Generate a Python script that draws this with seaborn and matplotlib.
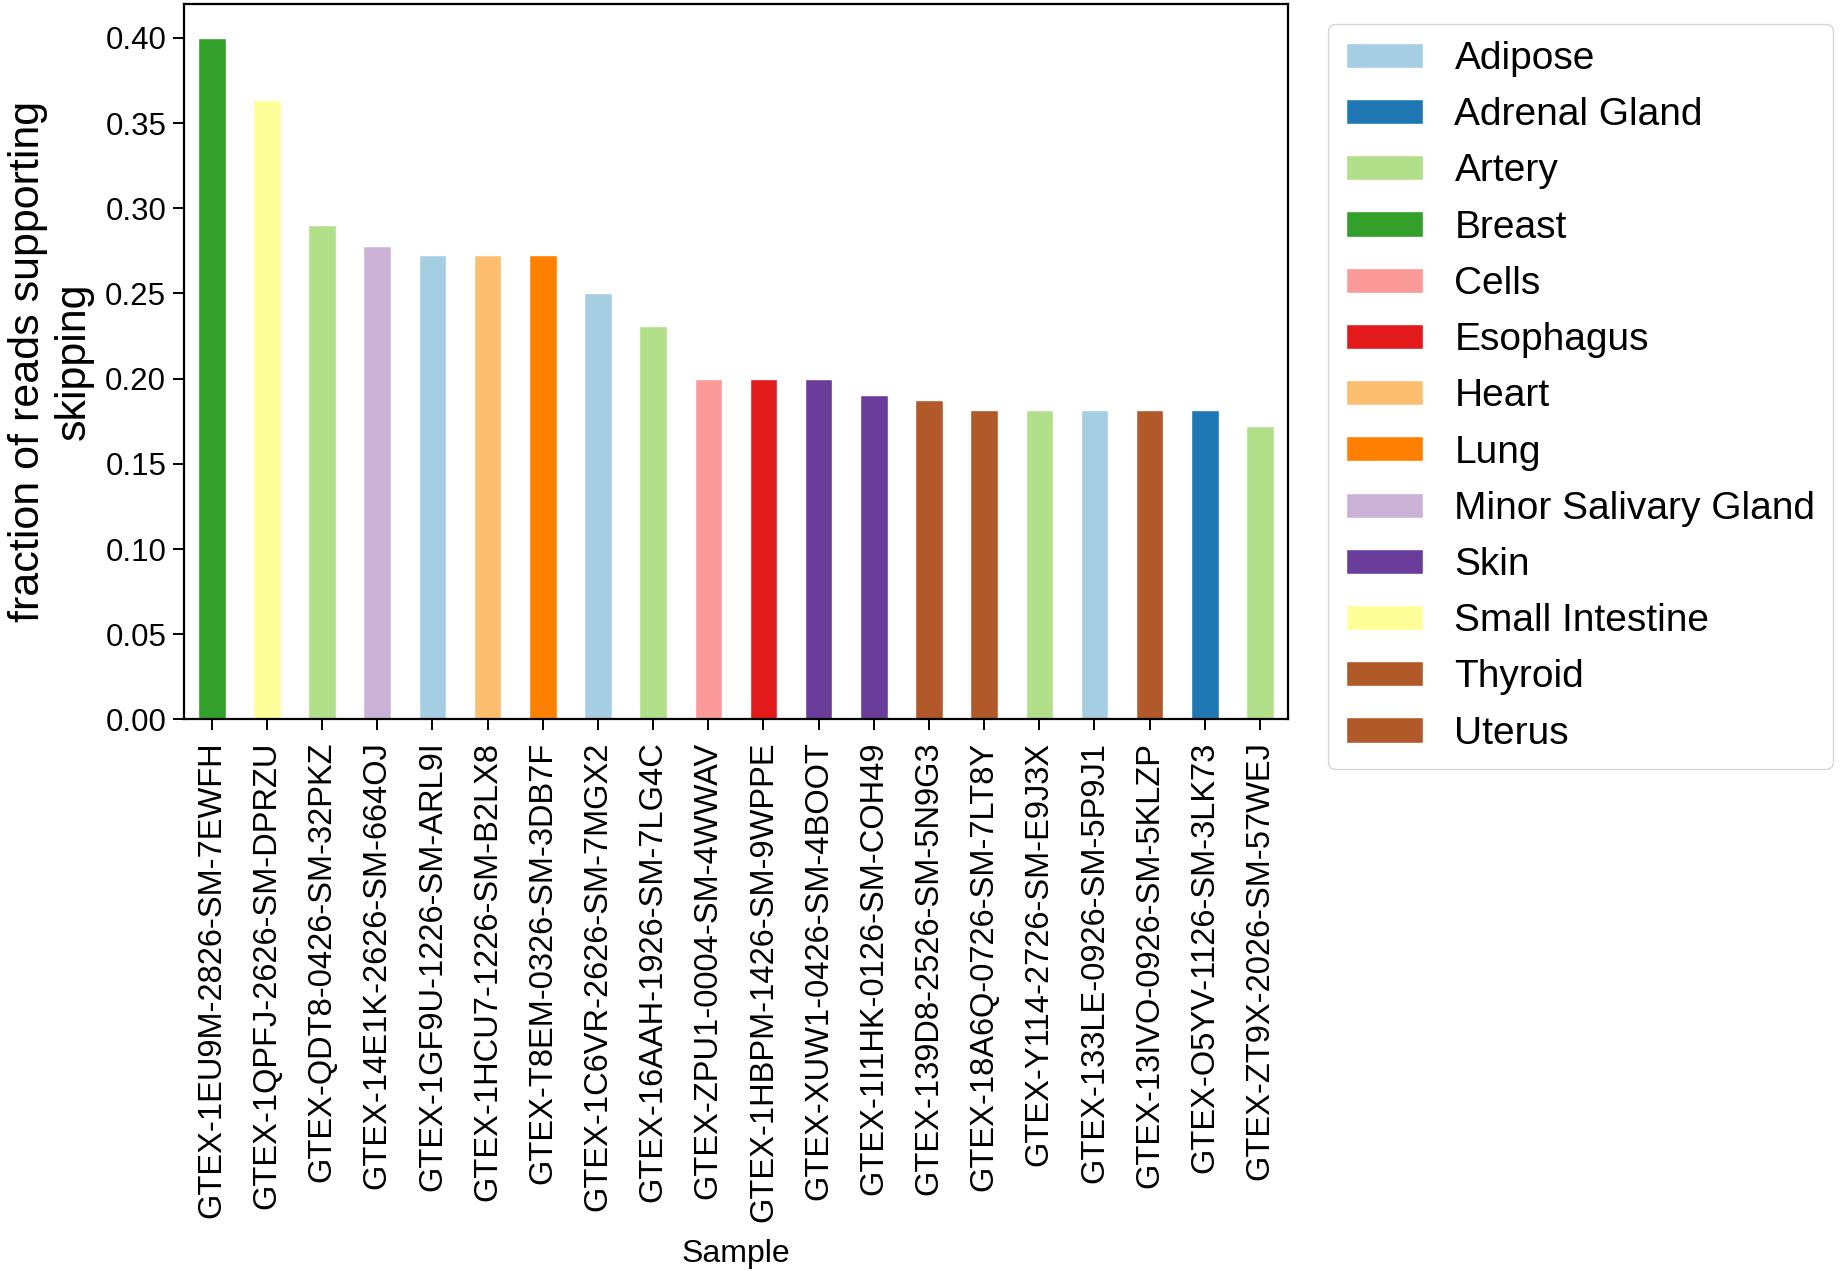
import numpy as np
import pandas as pd
import seaborn as sns
import matplotlib.pyplot as plt

samples = [
    "GTEX-1EU9M-2826-SM-7EWFH", "GTEX-1QPFJ-2626-SM-DPRZU", "GTEX-QDT8-0426-SM-32PKZ",
    "GTEX-14E1K-2626-SM-664OJ", "GTEX-1GF9U-1226-SM-ARL9I", "GTEX-1HCU7-1226-SM-B2LX8",
    "GTEX-T8EM-0326-SM-3DB7F", "GTEX-1C6VR-2626-SM-7MGX2", "GTEX-16AAH-1926-SM-7LG4C",
    "GTEX-ZPU1-0004-SM-4WWAV", "GTEX-1HBPM-1426-SM-9WPPE", "GTEX-XUW1-0426-SM-4BOOT",
    "GTEX-1I1HK-0126-SM-COH49", "GTEX-139D8-2526-SM-5N9G3", "GTEX-18A6Q-0726-SM-7LT8Y",
    "GTEX-Y114-2726-SM-E9J3X", "GTEX-133LE-0926-SM-5P9J1", "GTEX-13IVO-0926-SM-5KLZP",
    "GTEX-O5YV-1126-SM-3LK73", "GTEX-ZT9X-2026-SM-57WEJ",
]
tissues = [
    "Breast", "Small Intestine", "Artery", "Minor Salivary Gland", "Adipose", "Heart",
    "Lung", "Adipose", "Artery", "Cells", "Esophagus", "Skin", "Skin", "Thyroid",
    "Uterus", "Artery", "Adipose", "Thyroid", "Adrenal Gland", "Artery",
]
fraction = [
    0.4000, 0.3636, 0.2903, 0.2778, 0.2727, 0.2727, 0.2727, 0.2500, 0.2308, 0.2000,
    0.2000, 0.2000, 0.1905, 0.1875, 0.1818, 0.1818, 0.1818, 0.1818, 0.1818, 0.1724,
]
tissue_order = [
    "Adipose", "Adrenal Gland", "Artery", "Breast", "Cells", "Esophagus", "Heart",
    "Lung", "Minor Salivary Gland", "Skin", "Small Intestine", "Thyroid", "Uterus",
]

df = pd.DataFrame({"Sample": samples, "tissue": tissues, "fraction": fraction})

paired = sns.color_palette("Paired", 12)
palette = {t: paired[min(i, 11)] for i, t in enumerate(tissue_order)}

sns.set_theme(style="ticks")
plt.rcParams["font.family"] = ["Liberation Sans", "DejaVu Sans"]
plt.rcParams["axes.edgecolor"] = "black"
plt.rcParams["axes.linewidth"] = 1.6
plt.rcParams["xtick.color"] = "black"
plt.rcParams["ytick.color"] = "black"
plt.rcParams["text.color"] = "black"
plt.rcParams["axes.labelcolor"] = "black"

fig = plt.figure(figsize=(18.42, 12.71), dpi=100)
ax = fig.add_axes([0.100, 0.434, 0.599, 0.563])

sns.barplot(data=df, x="Sample", y="fraction", hue="tissue", hue_order=tissue_order,
            palette=palette, dodge=False, width=0.5, saturation=1, ax=ax)

ax.set_xlim(-0.5, len(samples) - 0.5)
ax.set_ylim(0, 0.42)
ax.set_yticks(np.arange(0, 0.41, 0.05))
ax.set_yticklabels([f"{v:.2f}" for v in np.arange(0, 0.41, 0.05)])
ax.tick_params(axis="x", labelrotation=90, labelsize=23.5, length=8, width=1.4, pad=8)
ax.tick_params(axis="y", labelsize=22.5, length=8, width=1.4, pad=5)
ax.set_xlabel("Sample", fontsize=23, labelpad=12)
ax.set_ylabel("fraction of reads supporting\nskipping", fontsize=31, labelpad=8)

handles, labels = ax.get_legend_handles_labels()
ax.get_legend().remove()
fig.legend(handles, labels, loc="upper left", bbox_to_anchor=(0.721, 0.9815),
           fontsize=28, frameon=True, handlelength=2.0, handleheight=0.62,
           labelspacing=0.52, borderpad=0.45, handletextpad=0.8, borderaxespad=0,
           edgecolor="#cccccc", fancybox=True)

fig.savefig("out.png", dpi=100)
